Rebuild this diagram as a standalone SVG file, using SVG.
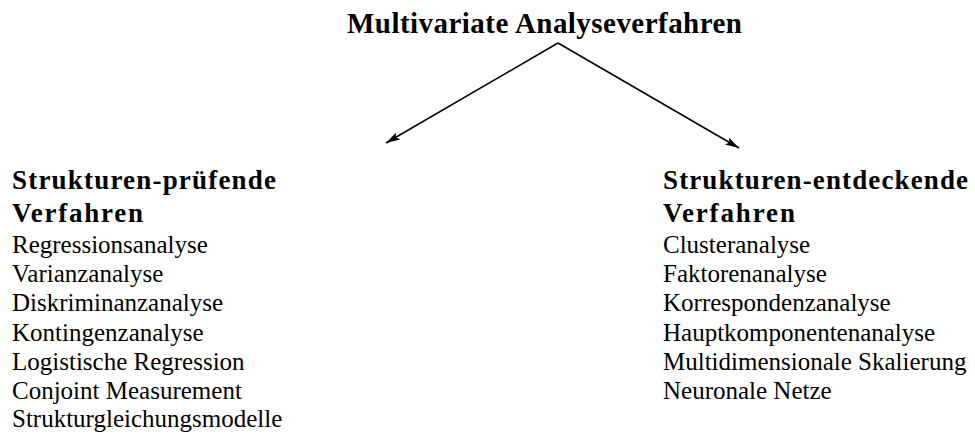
<svg xmlns="http://www.w3.org/2000/svg" width="975" height="437" viewBox="0 0 975 437" font-family="'Liberation Serif', 'Times New Roman', Times, serif">
<defs>
<marker id="arrow" viewBox="0 0 14 8" refX="14" refY="4" markerWidth="14" markerHeight="8" markerUnits="userSpaceOnUse" orient="auto">
<path d="M0,0 L14,4 L0,8 L3,4 Z" fill="#000"/>
</marker>
<style>
text{font-family:'Liberation Serif','Times New Roman',Times,serif;fill:#000}
.t{font-size:29px;font-weight:bold}
.h{font-size:27px;font-weight:bold}
.i{font-size:25px}
.c{stroke:#000;stroke-width:1.5;fill:none}
</style>
</defs>
<rect width="975" height="437" fill="#fff"/>
<g id="root">
<text class="t" x="347" y="33" textLength="395" lengthAdjust="spacing">Multivariate Analyseverfahren</text>
</g>
<g id="connectors">
<line class="c" x1="558" y1="43" x2="386" y2="143" marker-end="url(#arrow)"/>
<line class="c" x1="558" y1="43" x2="739" y2="148" marker-end="url(#arrow)"/>
</g>
<g id="pruefend">
<text class="h" x="12" y="189" textLength="264" lengthAdjust="spacing">Strukturen-prüfende</text>
<text class="h" x="12" y="222" textLength="131" lengthAdjust="spacing">Verfahren</text>
<text class="i" x="12" y="253">Regressionsanalyse</text>
<text class="i" x="12" y="282">Varianzanalyse</text>
<text class="i" x="12" y="311">Diskriminanzanalyse</text>
<text class="i" x="12" y="341">Kontingenzanalyse</text>
<text class="i" x="12" y="370">Logistische Regression</text>
<text class="i" x="12" y="399">Conjoint Measurement</text>
<text class="i" x="12" y="427">Strukturgleichungsmodelle</text>
</g>
<g id="entdeckend">
<text class="h" x="663" y="189" textLength="305" lengthAdjust="spacing">Strukturen-entdeckende</text>
<text class="h" x="663" y="222" textLength="132" lengthAdjust="spacing">Verfahren</text>
<text class="i" x="663" y="253">Clusteranalyse</text>
<text class="i" x="663" y="282">Faktorenanalyse</text>
<text class="i" x="663" y="311">Korrespondenzanalyse</text>
<text class="i" x="663" y="341">Hauptkomponentenanalyse</text>
<text class="i" x="663" y="370">Multidimensionale Skalierung</text>
<text class="i" x="663" y="399">Neuronale Netze</text>
</g>
</svg>
